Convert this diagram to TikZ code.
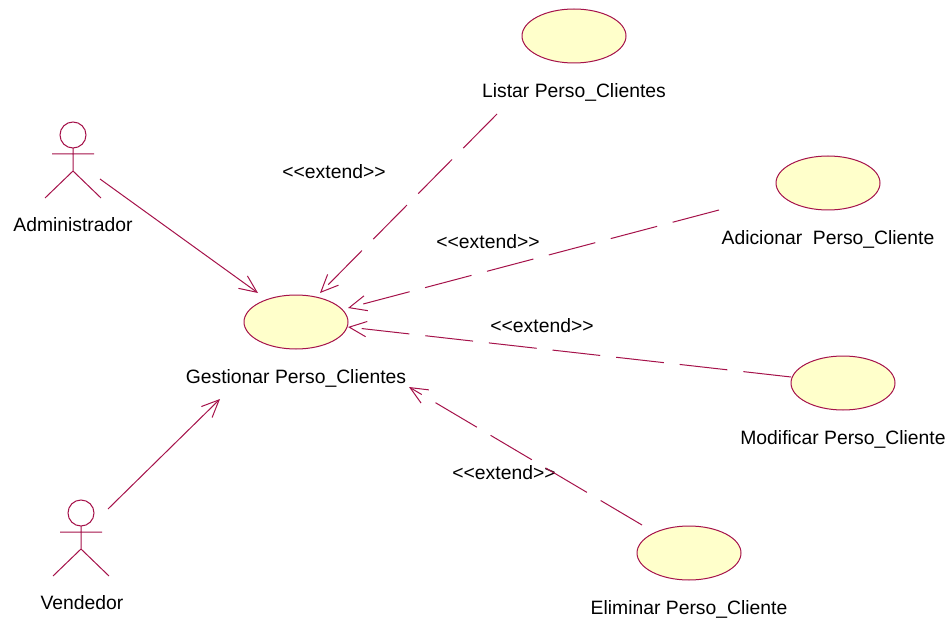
\documentclass[tikz,border=0pt]{standalone}
\usepackage{fontspec}
\setmainfont{Liberation Sans}
\usetikzlibrary{positioning,shapes.geometric,arrows.meta}
\definecolor{rosered}{HTML}{A5124A}
\definecolor{roseyellow}{HTML}{FFFFCB}
\tikzset{
  usecase/.style={ellipse,draw=rosered,fill=roseyellow,line width=0.75pt,minimum width=78pt,minimum height=40.5pt,inner sep=0pt},
  caption/.style={inner sep=0pt,text height=10pt,text depth=3pt,font=\fontsize{14.5}{17}\selectfont},
  assoc/.style={draw=rosered,line width=0.75pt,-{Straight Barb[length=13pt,width=11.5pt]}},
  extendline/.style={assoc,dash pattern=on 36pt off 12pt},
  pics/actor/.style={code={
    \draw[rosered,line width=0.75pt] (0,0) circle (13)
      (0,13) -- (0,36) (-21,19) -- (21,19)
      (-28,63) -- (0,36) -- (28,63);
  }}
}
\begin{document}
\begin{tikzpicture}[x=0.75pt,y=-0.75pt,node distance=15pt]
  \useasboundingbox (0,0) rectangle (952,620);
  \pic at (73,135) {actor};
  \pic at (81,513) {actor};
  \node[caption] (administrador) at (73,227) {Administrador};
  \node[caption] (vendedor) at (82,605) {Vendedor};

  \node[usecase] (gestionar) at (296,322) {};
  \node[usecase] (listar) at (574,36) {};
  \node[usecase] (adicionar) at (828,183) {};
  \node[usecase] (modificar) at (843,383) {};
  \node[usecase] (eliminar) at (689,553) {};

  \node[caption] (gestionarlabel) [below=of gestionar] {Gestionar Perso\_Clientes};
  \node[caption] (listarlabel) [below=of listar] {Listar Perso\_Clientes};
  \node[caption] (adicionarlabel) [below=of adicionar] {Adicionar\ \ Perso\_Cliente};
  \node[caption] (modificarlabel) [below=of modificar] {Modificar Perso\_Cliente};
  \node[caption] (eliminarlabel) [below=of eliminar] {Eliminar Perso\_Cliente};

  \node[caption] (extendlistar) at (334,174) {<{}<extend>{}>};
  \node[caption] (extendadicionar) at (488,244) {<{}<extend>{}>};
  \node[caption] (extendmodificar) at (542,328) {<{}<extend>{}>};
  \node[caption] (extendeliminar) at (504,475) {<{}<extend>{}>};

  \coordinate (adminfrom) at (100,179);
  \coordinate (adminto) at (258,293);
  \coordinate (vendfrom) at (108,509);
  \coordinate (vendto) at (220,399);
  \coordinate (listarfrom) at (497,114);
  \coordinate (listarto) at (320,293);
  \coordinate (adicionarfrom) at (719,210);
  \coordinate (adicionarto) at (348,308);
  \coordinate (modificarfrom) at (791,377);
  \coordinate (modificarto) at (348,327);
  \coordinate (eliminarfrom) at (642,525);
  \coordinate (eliminarto) at (409,387);

  \draw[assoc] (adminfrom) -- (adminto);
  \draw[assoc] (vendfrom) -- (vendto);
  \draw[extendline] (listarfrom) -- (listarto);
  \draw[extendline] (adicionarfrom) -- (adicionarto);
  \draw[extendline] (modificarfrom) -- (modificarto);
  \draw[extendline] (eliminarfrom) -- (eliminarto);
\end{tikzpicture}
\end{document}
